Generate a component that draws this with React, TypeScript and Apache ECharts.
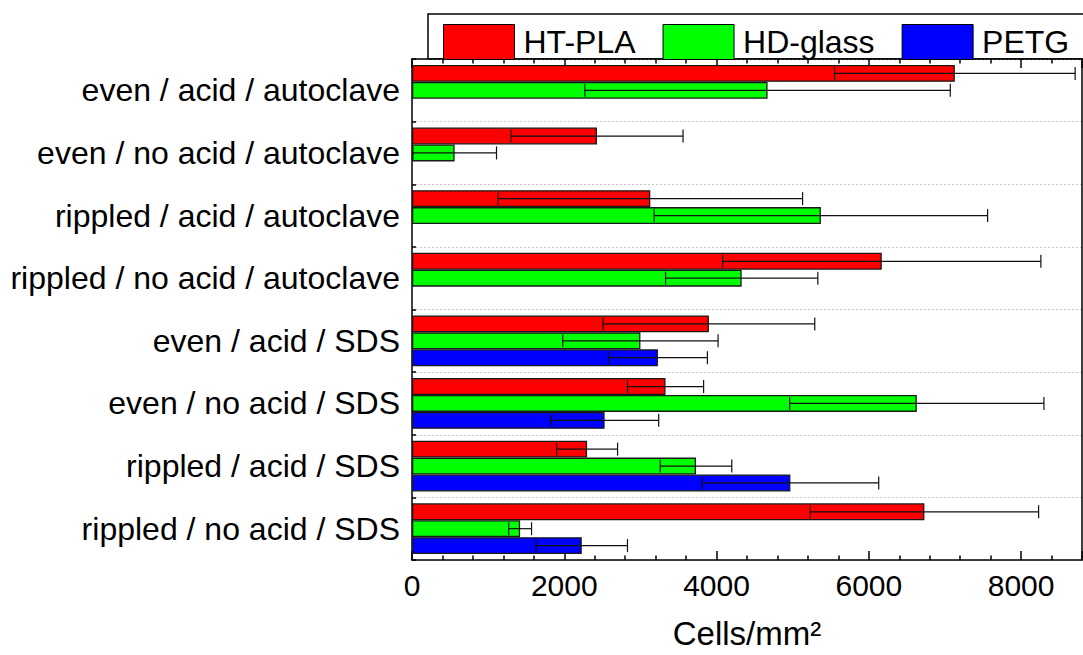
import React, { useEffect, useRef } from "react";
import * as echarts from "echarts";

const categories = [
  "even / acid / autoclave",
  "even / no acid / autoclave",
  "rippled / acid / autoclave",
  "rippled / no acid / autoclave",
  "even / acid / SDS",
  "even / no acid / SDS",
  "rippled / acid / SDS",
  "rippled / no acid / SDS",
];
const seriesNames = ["HT-PLA", "HD-glass", "PETG"];
const seriesColors = ["#ff0000", "#00ff00", "#0000ff"];
const htPla = [7130, 2430, 3130, 6170, 3900, 3330, 2300, 6730];
const htPlaErr = [1580, 1130, 2000, 2090, 1390, 500, 400, 1500];
const hdGlass = [4670, 560, 5370, 4330, 3000, 6630, 3730, 1420];
const hdGlassErr = [2400, 550, 2190, 1000, 1020, 1670, 470, 150];
const petg = [null, null, null, null, 3230, 2530, 4970, 2230];
const petgErr = [null, null, null, null, 650, 710, 1160, 600];
const xTicks = { min: 0, max: 8800, interval: 2000 };

const FONT = "'Liberation Sans', Arial, sans-serif";

export default function App() {
  const ref = useRef<HTMLDivElement>(null);
  useEffect(() => {
    if (!ref.current) return;
    const chart = echarts.init(ref.current, undefined, { renderer: "svg" });
    const values = [htPla, hdGlass, petg];
    const errs = [htPlaErr, hdGlassErr, petgErr];
    const GAP = 0.19;
    const nSeries = 3;

    const barSeries = values.map((vals, i) => ({
      type: "bar",
      name: seriesNames[i],
      xAxisIndex: 0,
      yAxisIndex: 0,
      data: vals,
      barCategoryGap: "19%",
      barGap: "0%",
      itemStyle: { color: seriesColors[i], borderColor: "#1a1a1a", borderWidth: 1.3 },
      z: 2,
    }));

    const errSeries = values.map((vals, i) => ({
      type: "custom",
      name: seriesNames[i] + " err",
      xAxisIndex: 0,
      yAxisIndex: 0,
      z: 5,
      silent: true,
      encode: { x: 1, y: 0 },
      data: vals
        .map((v, k) => (v == null ? null : [k, v, errs[i][k]]))
        .filter((d) => d != null),
      renderItem: (params: any, api: any) => {
        const cat = api.value(0);
        const v = api.value(1);
        const e = api.value(2);
        const c = api.coord([v, cat]);
        const band = api.size([0, 1])[1];
        const bw = (band * (1 - GAP)) / nSeries;
        const y = c[1] - (band * (1 - GAP)) / 2 + bw * (i + 0.5);
        const l = api.coord([Math.max(0, v - e), cat])[0];
        const r = api.coord([v + e, cat])[0];
        const h = 6.5;
        const style = { stroke: "#111", lineWidth: 1.2, fill: null };
        return {
          type: "group",
          children: [
            { type: "line", shape: { x1: l, y1: y, x2: r, y2: y }, style },
            { type: "line", shape: { x1: l, y1: y - h, x2: l, y2: y + h }, style },
            { type: "line", shape: { x1: r, y1: y - h, x2: r, y2: y + h }, style },
          ],
        };
      },
    }));

    const axisLineStyle = { color: "#000", width: 1.5 };

    chart.setOption({
      animation: false,
      textStyle: { fontFamily: FONT },
      grid: { left: 412, right: 1, top: 59, bottom: 93, containLabel: false },
      legend: {
        data: seriesNames,
        left: 438,
        top: 19,
        itemWidth: 71,
        itemHeight: 35,
        itemGap: 27,
        icon: "rect",
        itemStyle: { borderColor: "#000", borderWidth: 1 },
        textStyle: { fontSize: 32, color: "#000", fontFamily: FONT, padding: [0, 0, 0, 4] },
        selectedMode: false,
      },
      graphic: [
        {
          type: "rect",
          z: 0,
          shape: { x: 428, y: 14, width: 700, height: 45 },
          style: { fill: "#fff", stroke: "#000", lineWidth: 1.5 },
        },
      ],
      xAxis: [
        {
          type: "value",
          position: "bottom",
          min: xTicks.min,
          max: xTicks.max,
          interval: xTicks.interval,
          axisLine: { show: true, lineStyle: axisLineStyle },
          axisTick: { show: true, inside: true, length: 9, lineStyle: axisLineStyle },
          minorTick: { show: true, splitNumber: 5, length: 4.5, lineStyle: axisLineStyle },
          axisLabel: {
            fontSize: 30,
            color: "#000",
            margin: 10,
            showMaxLabel: false,
            fontFamily: FONT,
            formatter: (v: number) => String(v),
          },
          splitLine: { show: false },
          name: "Cells/mm²",
          nameLocation: "middle",
          nameGap: 57,
          nameTextStyle: { fontSize: 33, color: "#000", fontFamily: FONT },
        },
        {
          type: "value",
          position: "top",
          min: xTicks.min,
          max: xTicks.max,
          interval: xTicks.interval,
          axisLine: { show: true, lineStyle: axisLineStyle },
          axisTick: { show: true, inside: true, length: 9, lineStyle: axisLineStyle },
          minorTick: { show: true, splitNumber: 5, length: 4.5, lineStyle: axisLineStyle },
          axisLabel: { show: false },
          splitLine: { show: false },
        },
      ],
      yAxis: [
        {
          type: "category",
          data: categories,
          inverse: true,
          position: "left",
          axisLine: { show: true, lineStyle: axisLineStyle },
          axisTick: { show: true, inside: true, length: 4, lineStyle: axisLineStyle },
          axisLabel: { fontSize: 32, color: "#000", margin: 12, fontFamily: FONT },
          splitLine: { show: true, lineStyle: { color: "#c8c8c8", type: [2, 2], width: 1 } },
        },
        {
          type: "category",
          data: categories,
          inverse: true,
          position: "left",
          axisLine: { show: false },
          axisTick: { show: true, inside: true, length: 8, alignWithLabel: true, lineStyle: { color: "#000", width: 2 } },
          axisLabel: { show: false },
          splitLine: { show: false },
        },
        {
          type: "category",
          data: categories,
          inverse: true,
          position: "right",
          axisLine: { show: true, lineStyle: axisLineStyle },
          axisTick: { show: false },
          axisLabel: { show: false },
          splitLine: { show: false },
        },
      ],
      series: [...barSeries, ...errSeries],
    });
    return () => chart.dispose();
  }, []);
  return (
    <div
      ref={ref}
      style={{ position: "fixed", left: 0, top: 0, width: 1083, height: 655, background: "#fff" }}
    />
  );
}
